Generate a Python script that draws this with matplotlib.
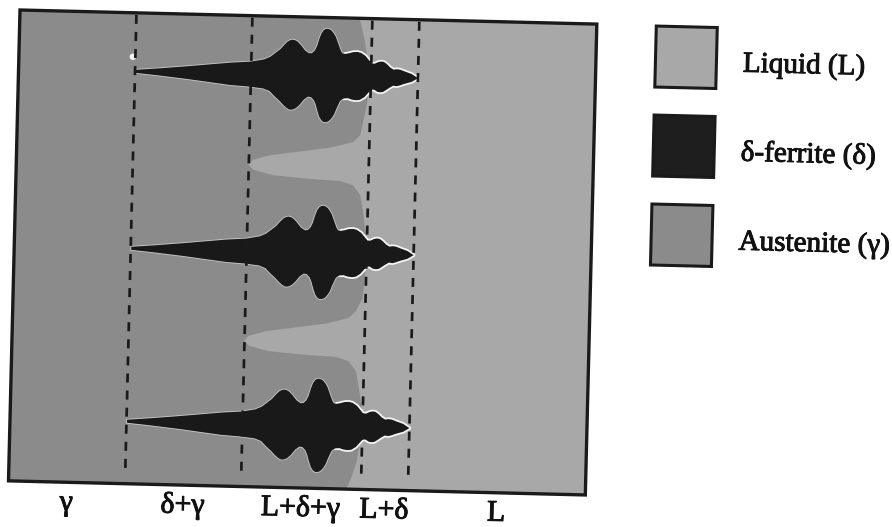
import matplotlib
matplotlib.use("Agg")
import matplotlib.pyplot as plt
from matplotlib.patches import Rectangle
from matplotlib.transforms import Affine2D
import matplotlib.patheffects as pe
import numpy as np

plt.rcParams['lines.scale_dashes'] = False

# ---------------- data (simulation-domain units, u to the right, v downward) ----------------
domain_w = 577
domain_h = 471

# dashed boundaries between the zones
zone_bounds_u = [116.5, 232.5, 352.5, 399.5]
zone_labels = ['γ', 'δ+γ', 'L+δ+γ', 'L+δ', 'L']

# dendrite (δ-ferrite) centre lines
dendrite_axis_v = [58.5, 235.5, 408.5]

# dendrite profile: position along growth direction and half-widths above / below the axis
profile_u = [117, 140, 170, 211.6, 231.6, 245, 251.6, 256, 261.6, 265, 268.3, 271, 273.3,
             276, 278.5, 281.6, 286, 290, 293, 296, 298, 300, 302, 304, 306, 308.3, 310.5,
             312.5, 314.5, 316.6, 318.5, 320, 322, 323.3, 326, 330, 334, 338.3, 342,
             346.6, 350, 353, 356, 359, 362, 365, 368, 371.6, 375, 378.5, 382, 386,
             393.3, 399.5]
profile_up = [1.5, 3.5, 6.5, 11, 12.5, 15, 18, 21.5, 26, 30, 33.4, 35, 35.5,
              35, 33.5, 30.4, 25, 22.3, 22.5, 25.5, 30, 37, 42.5, 45.5, 47, 47.2, 46.5,
              45, 42.5, 39, 34, 30, 25, 23.1, 22.5, 23.3, 24.5, 24.8, 24,
              21, 17, 13.5, 13.5, 15, 15.8, 15.5, 13.5, 10, 8, 8.5, 8, 6.5,
              4, 0]
profile_low = [1.5, 3.5, 6.5, 11.3, 12.5, 14, 16.5, 21, 26, 29.5, 32.5, 34.2, 34.6,
               34, 32.5, 29.6, 24, 21.1, 21.5, 24.5, 29, 36, 41.5, 44.5, 46, 46.2, 45.5,
               44, 41.5, 38, 33, 29.5, 25, 23.6, 22, 21.7, 23, 23.5, 23,
               20, 16, 12.5, 12.5, 14.5, 15, 14.5, 12.5, 10, 8, 8.5, 7.5, 6,
               3.8, 0]

# austenite / liquid interface (austenite lies to the left)
interface_v = [0, 24, 44, 71, 84, 104, 117, 124, 130, 135, 139, 144, 149, 154, 159, 162,
               163, 167, 177, 194, 214, 240, 262, 280, 293, 300, 306, 311, 315, 320, 325,
               330, 335, 338, 339, 343, 353, 370, 387, 402, 422, 442, 458, 471]
interface_u = [340, 345.7, 349.2, 350, 349.3, 345.8, 343.1, 336.3, 313.5, 280.6, 253.7,
               236.8, 232, 237, 257, 297, 324, 337, 344.7, 348, 350.7, 351.3, 351, 349.5,
               343, 336, 313.5, 280.6, 253.7, 236.8, 232, 237, 257, 297, 324, 337, 344.7,
               348, 351, 351.5, 350.5, 348, 343, 338]

# small bright speck near the first dendrite root
speck_u = [114]
speck_v = [44]

legend_names = ['Liquid (L)', 'δ-ferrite (δ)', 'Austenite (γ)']

# ---------------- styles ----------------
c_liquid = '#a8a8a8'
c_aust = '#8b8b8b'
c_ferrite = '#191919'
c_line = '#1a1a1a'
legend_colors = [c_liquid, '#1e1e1e', c_aust]
serif = ['Liberation Serif', 'DejaVu Serif']
ROT = 1.4
txt_fx = [pe.withStroke(linewidth=0.7, foreground='#111111')]

fig = plt.figure(figsize=(8.92, 5.27), dpi=100)
fig.patch.set_facecolor('white')
ax = fig.add_axes([0, 0, 1, 1])
ax.set_xlim(0, 892)
ax.set_ylim(527, 0)
ax.axis('off')

frame = Affine2D().rotate_deg(ROT).translate(20, 10) + ax.transData

# background liquid
ax.add_patch(Rectangle((0, 0), domain_w, domain_h, facecolor=c_liquid, edgecolor='none',
                       transform=frame, zorder=1))
# austenite
ax.fill_betweenx(interface_v, 0, interface_u, facecolor=c_aust, edgecolor='none',
                 transform=frame, zorder=2)

pu = np.array(profile_u)
pup = np.array(profile_up)
plo = np.array(profile_low)
halo = pu >= 326
for yc in dendrite_axis_v:
    ax.fill_between(pu, yc - pup, yc + plo, facecolor='none', edgecolor='#c4c4c4',
                    linewidth=1.3, transform=frame, zorder=3)
    ax.fill_between(pu[halo], yc - pup[halo], yc + plo[halo], facecolor='none',
                    edgecolor='#f4f4f4', linewidth=2.6, transform=frame, zorder=3.5)
    ax.fill_between(pu, yc - pup, yc + plo, facecolor=c_ferrite, edgecolor='none',
                    transform=frame, zorder=4)

ax.scatter(speck_u, speck_v, s=22, marker='o', color='#f2f2f2', edgecolor='none',
           transform=frame, zorder=4)

# dashed zone boundaries
for xb in zone_bounds_u:
    ax.plot([xb, xb], [2, 459], color=c_line, linewidth=1.95,
            linestyle=(0, (6.5, 5.8)), transform=frame, zorder=5)

# border
ax.add_patch(Rectangle((0, 0), domain_w, domain_h, facecolor='none', edgecolor=c_line,
                       linewidth=2.4, transform=frame, zorder=6))

# zone labels
edges = [0] + zone_bounds_u + [domain_w]
for i, lab in enumerate(zone_labels):
    uc = 0.5 * (edges[i] + edges[i + 1])
    ax.text(uc, 499, lab, transform=frame, ha='center', va='baseline',
            fontsize=21.5, family=serif, rotation=-ROT, rotation_mode='anchor',
            color='#111111', path_effects=txt_fx)

# legend
for i, (name, col) in enumerate(zip(legend_names, legend_colors)):
    vc = 31 + 89 * i
    ax.add_patch(Rectangle((636.5, vc - 30.5), 61, 61, facecolor=col, edgecolor='#1a1a1a',
                           linewidth=2.2, transform=frame, zorder=6))
    ax.text(724, vc + 13, name, transform=frame, ha='left', va='baseline',
            fontsize=21, family=serif, rotation=-ROT, rotation_mode='anchor',
            color='#111111', path_effects=txt_fx)

fig.savefig('out.png', dpi=100, facecolor='white')
